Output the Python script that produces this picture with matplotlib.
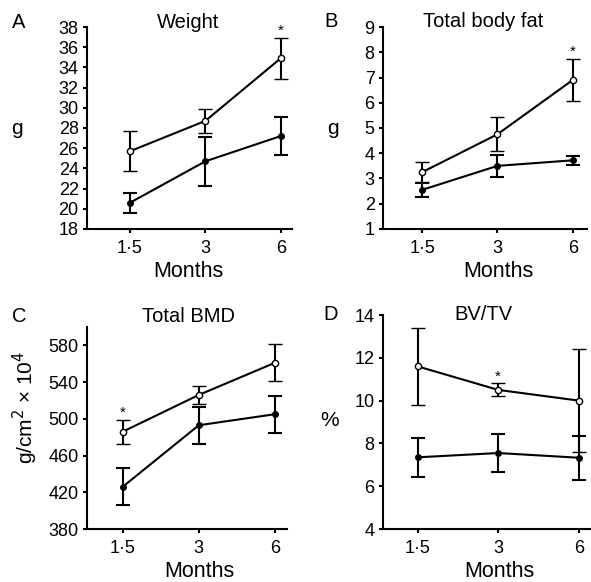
import numpy as np
import matplotlib.pyplot as plt

plt.rcParams['font.family'] = ['Liberation Sans', 'DejaVu Sans']

months = ['1·5', '3', '6']

# Weight (g)
weight_open = [25.7, 28.7, 34.9]
weight_open_err = [2.0, 1.2, 2.05]
weight_fill = [20.6, 24.7, 27.2]
weight_fill_err = [1.0, 2.4, 1.85]

# Total body fat (g)
fat_open = [3.25, 4.75, 6.9]
fat_open_err = [0.4, 0.67, 0.83]
fat_fill = [2.55, 3.5, 3.72]
fat_fill_err = [0.28, 0.43, 0.18]

# Total BMD (g/cm2 x 10^4)
bmd_open = [486, 526, 561]
bmd_open_err = [13, 10, 20]
bmd_fill = [426, 493, 505]
bmd_fill_err = [20, 20, 20]

# BV/TV (%)
bv_open = [11.6, 10.5, 10.0]
bv_open_err = [1.8, 0.3, 2.4]
bv_fill = [7.35, 7.55, 7.33]
bv_fill_err = [0.9, 0.87, 1.02]

W, H = 591, 582
fig = plt.figure(figsize=(W / 100, H / 100), dpi=100)


def box(l, r, t, b):
    return [l / W, 1 - b / H, (r - l) / W, (b - t) / H]


panels = [
    dict(rect=box(87, 292, 27, 229), openv=weight_open, opene=weight_open_err,
         fillv=weight_fill, fille=weight_fill_err, ylim=(18, 38),
         yticks=np.arange(18, 39, 2), xlim=(-0.57, 2.15), star=2,
         title='Weight', tpos=(188, 28), letter='A', lpos=(19, 28),
         ylab='g', ypos=(17, 128), rot=0, mpos=(188, 277)),
    dict(rect=box(383, 587, 27, 229), openv=fat_open, opene=fat_open_err,
         fillv=fat_fill, fille=fat_fill_err, ylim=(1, 9),
         yticks=np.arange(1, 10, 1), xlim=(-0.52, 2.19), star=2,
         title='Total body fat', tpos=(483, 27), letter='B', lpos=(331, 27),
         ylab='g', ypos=(333, 128), rot=0, mpos=(498, 277)),
    dict(rect=box(87, 287, 327, 529), openv=bmd_open, opene=bmd_open_err,
         fillv=bmd_fill, fille=bmd_fill_err, ylim=(380, 600),
         yticks=np.arange(380, 581, 40), xlim=(-0.47, 2.16), star=0,
         title='Total BMD', tpos=(188, 322), letter='C', lpos=(19, 322),
         ylab='g/cm$^2$ × 10$^4$', ypos=(25, 408), rot=90, mpos=(199, 577)),
    dict(rect=box(383, 590, 315, 529), openv=bv_open, opene=bv_open_err,
         fillv=bv_fill, fille=bv_fill_err, ylim=(4, 14),
         yticks=np.arange(4, 15, 2), xlim=(-0.43, 2.14), star=1,
         title='BV/TV', tpos=(483, 320), letter='D', lpos=(331, 320),
         ylab='%', ypos=(330, 420), rot=0, mpos=(499, 577)),
]

x = np.arange(3)
for p in panels:
    ax = fig.add_axes(p['rect'])
    ax.errorbar(x, p['fillv'], yerr=p['fille'], color='black', lw=1.5,
                elinewidth=1.5, capsize=5, capthick=1.5, marker='o', ms=4,
                mfc='black', mec='black', zorder=2)
    ax.errorbar(x, p['openv'], yerr=p['opene'], color='black', lw=1.5,
                elinewidth=1.5, capsize=5, capthick=1.5, marker='o', ms=4.5,
                mfc='white', mec='black', mew=1, zorder=3)
    s = p['star']
    ax.text(x[s], p['openv'][s] + p['opene'][s], '*', ha='center', va='bottom',
            fontsize=11)
    ax.set_xlim(*p['xlim'])
    ax.set_ylim(*p['ylim'])
    ax.set_xticks(x)
    ax.set_xticklabels(months)
    ax.set_yticks(p['yticks'])
    ax.spines['top'].set_visible(False)
    ax.spines['right'].set_visible(False)
    ax.spines['left'].set_linewidth(1.5)
    ax.spines['bottom'].set_linewidth(1.5)
    ax.tick_params(direction='out', length=3, width=1.5, labelsize=13)
    ax.tick_params(axis='x', pad=5)
    ax.tick_params(axis='y', pad=3)
    ax.patch.set_visible(False)
    fig.text(p['tpos'][0] / W, 1 - p['tpos'][1] / H, p['title'], ha='center',
             va='baseline', fontsize=14.5)
    fig.text(p['lpos'][0] / W, 1 - p['lpos'][1] / H, p['letter'], ha='center',
             va='baseline', fontsize=14.5)
    fig.text(p['ypos'][0] / W, 1 - p['ypos'][1] / H, p['ylab'], ha='center',
             va='center', fontsize=15, rotation=p['rot'])
    fig.text(p['mpos'][0] / W, 1 - p['mpos'][1] / H, 'Months', ha='center',
             va='baseline', fontsize=15.5)

fig.savefig('out.png', dpi=100)
